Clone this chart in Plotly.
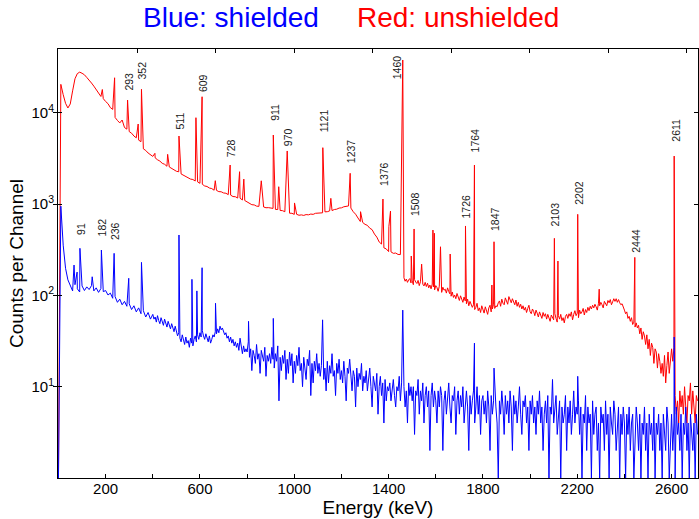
import numpy as np
import plotly.graph_objects as go

# Each spectrum is stored in two pieces: a coarse low-energy part and a
# finer high-energy part (start keV, bin width keV).
RED_LO_START, RED_LO_STEP = 0, 10
RED_HI_START, RED_HI_STEP = 1460, 5
BLUE_LO_START, BLUE_LO_STEP = 0, 10
BLUE_HI_START, BLUE_HI_STEP = 400, 5

# Unshielded detector, counts per channel, 0-1450 keV every 10 keV
red_counts_lo = [
    1, 20500, 15800, 12700, 11300, 12500, 17400, 23600, 26900, 27900,      # 0-90
    27100, 26100, 24400, 22900, 21200, 19600, 18000, 16700, 15100, 14300,  # 100-190
    13300, 12600, 11400, 10900, 8900, 8250, 7750, 7420, 6900, 6620,        # 200-290
    6230, 5980, 5570, 5320, 5020, 4830, 4030, 3870, 3630, 3500,            # 300-390
    3330, 3210, 3060, 2960, 2800, 2730, 2600, 2550, 2460, 2390,            # 400-490
    2290, 2260, 2140, 2070, 1980, 1950, 1880, 1860, 1790, 1750,            # 500-590
    1690, 1650, 1580, 1560, 1500, 1480, 1420, 1415, 1370, 1365,            # 600-690
    1325, 1315, 1270, 1255, 1210, 1205, 1165, 1160, 1110, 1095,            # 700-790
    1050, 1025, 985, 980, 950, 945, 925, 930, 912, 915,                    # 800-890
    900, 898, 875, 872, 852, 848, 825, 818, 795, 793,                      # 900-990
    772, 773, 755, 762, 752, 768, 763, 778, 772, 793,                      # 1000-1090
    795, 808, 803, 823, 826, 843, 850, 873, 880, 905,                      # 1100-1190
    910, 935, 940, 955, 905, 825, 775, 705, 645, 630,                      # 1200-1290
    600, 585, 545, 525, 470, 435, 385, 365, 332, 323,                      # 1300-1390
    302, 300, 289, 291, 281, 280,                                          # 1400-1450
]

# Unshielded detector, 1460-2710 keV every 5 keV (rows of 100 keV)
red_counts_hi = [
    150, 156, 143, 151, 139, 148, 153, 137, 144, 131, 149, 140, 135, 146, 128, 141, 150, 133, 127, 139,  # 1460
    125, 136, 121, 130, 118, 133, 124, 115, 128, 122, 111, 126, 119, 108, 123, 114, 117, 106, 121, 110,  # 1560
    104, 98, 109, 95, 101, 92, 105, 97, 88, 99, 93, 84, 96, 87, 81, 91, 77, 86, 80, 74,                  # 1660
    79, 70, 74, 82, 68, 73, 65, 77, 71, 64, 75, 69, 62, 73, 78, 66, 71, 80, 72, 77,                      # 1760
    75, 83, 87, 76, 91, 82, 79, 94, 86, 80, 97, 88, 83, 92, 85, 79, 89, 76, 84, 74,                      # 1860
    80, 71, 77, 69, 74, 65, 72, 78, 66, 63, 71, 67, 60, 69, 64, 58, 66, 61, 56, 65,                      # 1960
    59, 63, 55, 62, 57, 52, 61, 58, 54, 63, 56, 51, 60, 55, 62, 53, 57, 50, 59, 62,                      # 2060
    56, 63, 59, 66, 54, 62, 68, 60, 64, 57, 69, 63, 66, 72, 61, 70, 65, 74, 68, 76,                      # 2160
    71, 78, 73, 80, 75, 69, 82, 77, 84, 79, 73, 86, 81, 77, 88, 83, 90, 79, 85, 92,                      # 2260
    86, 92, 84, 90, 83, 79, 81, 72, 69, 63, 66, 56, 59, 52, 57, 48, 51, 45, 50, 44,                      # 2360
    47, 38, 44, 33, 40, 36, 29, 37, 26, 33, 22, 30, 27, 18, 26, 24, 16, 23, 19, 14,                      # 2460
    18, 13, 22, 11, 17, 24, 14, 21, 26, 19, 27, 8, 5, 7, 4, 9, 6, 8, 5, 10,                              # 2560
    6, 4, 8, 7, 11, 5, 9, 6, 4, 8, 7,                                                                    # 2660-2710
]

# Shielded detector, 0-390 keV every 10 keV
blue_counts_lo = [
    1, 950, 355, 198, 148, 126, 112, 131, 118, 109,       # 0-90
    127, 113, 124, 116, 128, 112, 121, 108, 119, 110,     # 100-190
    113, 101, 106, 93, 97, 84, 91, 79, 86, 76,            # 200-290
    81, 70, 77, 66, 73, 63, 68, 58, 65, 55,               # 300-390
]

# Shielded detector, 400-2710 keV every 5 keV (rows of 100 keV)
blue_counts_hi = [
    62, 55, 58, 51, 60, 53, 49, 57, 52, 47, 55, 50, 45, 52, 48, 43, 49, 44, 40, 46,  # 400
    41, 36, 39, 34, 31, 37, 33, 29, 35, 30, 32, 27, 34, 30, 28, 33, 36, 31, 37, 33,  # 500
    39, 35, 41, 36, 33, 38, 34, 31, 36, 30, 33, 37, 35, 40, 38, 43, 39, 46, 42, 44,  # 600
    41, 37, 39, 34, 36, 31, 35, 30, 33, 28, 31, 27, 30, 25, 29, 26, 23, 28, 24, 26,  # 700
    24, 31, 21, 26, 15, 25, 22, 18, 29, 20, 23, 14, 25, 21, 19, 27, 13, 22, 19, 23,  # 800
    18, 27, 20, 16, 23, 19, 28, 7, 21, 15, 22, 18, 25, 12, 20, 14, 24, 17, 23, 11,   # 900
    19, 14, 22, 17, 27, 15, 18, 10, 21, 16, 12, 20, 17, 25, 8, 18, 11, 19, 15, 23,   # 1000
    14, 18, 13, 17, 22, 12, 16, 9, 19, 11, 17, 14, 23, 13, 15, 8, 18, 14, 20, 12,    # 1100
    15, 11, 19, 13, 7, 16, 14, 20, 12, 9, 15, 13, 6, 16, 10, 14, 12, 18, 9, 13,      # 1200
    11, 15, 9, 12, 16, 10, 6, 13, 11, 9, 14, 5, 10, 13, 8, 11, 4, 12, 7, 10,         # 1300
    9, 11, 7, 10, 12, 8, 6, 10, 9, 13, 7, 11, 8, 10, 6, 9, 4, 11, 8, 10,             # 1400
    7, 10, 3, 9, 8, 12, 5, 9, 7, 11, 4, 8, 10, 6, 9, 2, 8, 11, 6, 9,                 # 1500
    7, 4, 9, 6, 10, 8, 2, 7, 9, 5, 8, 11, 6, 4, 8, 7, 10, 3, 7, 9,                   # 1600
    5, 8, 6, 10, 4, 7, 9, 6, 2, 8, 5, 7, 9, 4, 6, 10, 5, 8, 3, 7,                    # 1700
    8, 5, 7, 4, 9, 6, 2, 8, 5, 7, 10, 6, 4, 1, 7, 5, 9, 6, 3, 8,                     # 1800
    5, 7, 4, 9, 6, 2, 8, 5, 7, 4, 6, 10, 5, 3, 7, 6, 8, 4, 6, 2,                     # 1900
    7, 5, 8, 4, 6, 3, 7, 5, 9, 4, 6, 2, 5, 7, 4, 8, 1, 6, 5, 7,                      # 2000
    4, 6, 8, 3, 5, 7, 1, 6, 4, 5, 8, 2, 6, 4, 7, 3, 5, 9, 4, 6,                      # 2100
    5, 7, 3, 6, 1, 5, 4, 8, 2, 6, 4, 5, 1, 7, 3, 5, 6, 2, 4, 1,                      # 2200
    6, 4, 5, 2, 7, 3, 5, 1, 6, 4, 3, 7, 5, 2, 4, 6, 1, 5, 3, 6,                      # 2300
    4, 1, 5, 3, 6, 2, 4, 5, 1, 3, 6, 4, 2, 5, 1, 4, 3, 6, 2, 4,                      # 2400
    1, 5, 3, 4, 2, 6, 1, 4, 3, 5, 2, 4, 1, 5, 3, 2, 6, 4, 1, 3,                      # 2500
    5, 2, 4, 1, 6, 3, 4, 2, 5, 1, 4, 3, 6, 2, 4, 1, 5, 3, 2, 4,                      # 2600
    1, 5, 3,                                                                         # 2700-2710
]

# Photopeak tops (keV, counts per channel)
red_peak_kev = [186, 238, 270, 293, 338, 352, 409, 463, 511, 583, 609, 665,
                728, 768, 786, 860, 911, 934, 965, 970, 1001, 1121, 1155,
                1237, 1281, 1376, 1401, 1408, 1460, 1496, 1508, 1540, 1588,
                1594, 1620, 1661, 1726, 1764, 1838, 1847, 2103, 2118, 2202,
                2293, 2444, 2611]
red_peak_counts = [18000, 24200, 8340, 13800, 7540, 18100, 3600, 3510, 5570,
                   8840, 15000, 1805, 2680, 2265, 1880, 1800, 5710, 1550,
                   1800, 3820, 1030, 4150, 1157, 2175, 826, 1137, 566, 840,
                   37900, 270, 534, 220, 520, 480, 341, 284, 576, 2680, 130,
                   387, 422, 238, 773, 117, 261, 3360]

blue_peak_kev = [66, 79, 91, 143, 182, 236, 298, 352, 511, 566, 587, 609,
                 666, 770, 806, 911, 1120, 1460, 1764, 1847, 2095, 2202, 2611]
blue_peak_counts = [215, 180, 328, 160, 314, 289, 154, 230, 459, 150, 112,
                    201, 82, 34, 52, 56, 54, 69, 30, 16, 12, 13, 35]

# Energies written above the labelled lines
label_kev = [91, 182, 236, 293, 352, 511, 609, 728, 911, 970, 1121, 1237,
             1376, 1460, 1508, 1726, 1764, 1847, 2103, 2202, 2444, 2611]

# ---- layout geometry ------------------------------------------------------
W, H = 699, 519
M_L, M_R, M_T, M_B = 58, 1, 49, 41
PLOT_W = W - M_L - M_R
PLOT_H = H - M_T - M_B
X_RANGE = [-2, 2712]
Y_RANGE = [0, np.log10(5e4)]

# Top axis: channel number (1/3 keV per channel)
CH_OFFSET_KEV, KEV_PER_CH = 1.1, 0.333
CH_RANGE = [(X_RANGE[0] - CH_OFFSET_KEV) / KEV_PER_CH,
            (X_RANGE[1] - CH_OFFSET_KEV) / KEV_PER_CH]

# Pixel row of the lower end of each rotated label, and small sideways nudges
label_bottom_px = [236, 237, 241, 92, 80, 130, 93, 158, 122, 147, 133, 164,
                   187, 80, 217, 219, 153, 232, 227, 206, 254, 143]
label_xshift = {1460: -5.5}

FONT = "Liberation Sans, Arial, Helvetica, sans-serif"


def spectrum(pieces, peak_kev, peak_counts):
    pts = {}
    for start, step, counts in pieces:
        energies = (start + np.arange(len(counts)) * step).tolist()
        pts.update(zip(energies, counts))
    pts.update(zip([float(e) for e in peak_kev], peak_counts))
    xs = sorted(pts)
    return xs, [pts[x] for x in xs]


red_x, red_y = spectrum([(RED_LO_START, RED_LO_STEP, red_counts_lo),
                         (RED_HI_START, RED_HI_STEP, red_counts_hi)],
                        red_peak_kev, red_peak_counts)
blue_x, blue_y = spectrum([(BLUE_LO_START, BLUE_LO_STEP, blue_counts_lo),
                           (BLUE_HI_START, BLUE_HI_STEP, blue_counts_hi)],
                          blue_peak_kev, blue_peak_counts)

fig = go.Figure()
fig.add_trace(go.Scatter(x=red_x, y=red_y, mode="lines",
                         line=dict(color="rgb(255,0,0)", width=1),
                         name="unshielded", hoverinfo="skip"))
fig.add_trace(go.Scatter(x=blue_x, y=blue_y, mode="lines",
                         line=dict(color="rgb(0,0,255)", width=1),
                         name="shielded", hoverinfo="skip"))
# empty trace so the channel axis on top is drawn
fig.add_trace(go.Scatter(x=[], y=[], xaxis="x2", showlegend=False))

tick_vals = list(range(200, 2700, 200))
tick_text = [str(v) if v % 400 == 200 else "" for v in tick_vals]

annotations = []
for kev, bottom in zip(label_kev, label_bottom_px):
    annotations.append(dict(
        x=kev, xref="x", y=(M_T + PLOT_H - bottom) / PLOT_H, yref="paper",
        text=str(kev), textangle=-90, showarrow=False,
        xanchor="center", yanchor="bottom", borderpad=0,
        xshift=label_xshift.get(kev, 1),
        font=dict(family=FONT, size=10.5, color="#1a1a1a")))

for text, cx, color in [("Blue: shielded", 230.8, "rgb(0,0,255)"),
                        ("Red: unshielded", 457.5, "rgb(255,0,0)")]:
    annotations.append(dict(
        x=(cx - M_L) / PLOT_W, xref="paper",
        y=(M_T + PLOT_H - 18) / PLOT_H, yref="paper",
        text=text, showarrow=False, xanchor="center", yanchor="middle",
        font=dict(family=FONT, size=28, color=color)))

axis_common = dict(showgrid=False, zeroline=False, linecolor="black",
                   linewidth=1, ticks="inside", ticklen=4, tickcolor="black",
                   tickfont=dict(family=FONT, size=15, color="black"))

fig.update_layout(
    width=W, height=H,
    margin=dict(l=M_L, r=M_R, t=M_T, b=M_B, pad=0),
    paper_bgcolor="white", plot_bgcolor="white",
    showlegend=False,
    font=dict(family=FONT, color="black"),
    xaxis=dict(range=X_RANGE, tickmode="array", tickvals=tick_vals,
               ticktext=tick_text, mirror=True, ticklabelstandoff=-3,
               title=dict(text="Energy (keV)", standoff=4,
                          font=dict(family=FONT, size=19)),
               **axis_common),
    xaxis2=dict(range=CH_RANGE, overlaying="x", side="top", anchor="y",
                showticklabels=False, showline=False, dtick=1000, tick0=0,
                showgrid=False, zeroline=False, ticks="inside", ticklen=4,
                tickcolor="black"),
    yaxis=dict(type="log", range=Y_RANGE, tickmode="array",
               tickvals=[10, 100, 1000, 10000],
               ticktext=["10<sup>1</sup>", "10<sup>2</sup>",
                         "10<sup>3</sup>", "10<sup>4</sup>"],
               mirror="allticks",
               title=dict(text="Counts per Channel", standoff=2,
                          font=dict(family=FONT, size=19)),
               **axis_common),
    annotations=annotations,
)

fig.write_html("out.html", config={"displayModeBar": False})
